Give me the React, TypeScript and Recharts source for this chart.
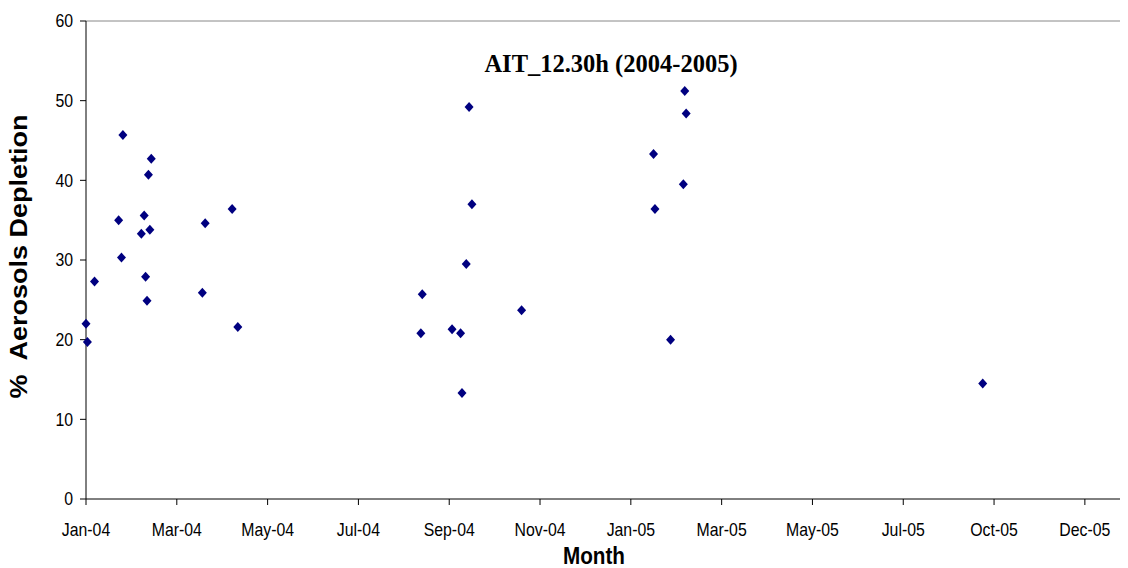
import React from "react";
import { ScatterChart, Scatter, XAxis, YAxis, ReferenceLine } from "recharts";

// Observation dates (AIT, 12:30 h local) and the measured aerosol depletion (%)
const sampleDates = [
  "2004-01-01", "2004-01-02", "2004-01-07", "2004-01-24", "2004-01-26",
  "2004-01-27", "2004-02-09", "2004-02-11", "2004-02-12", "2004-02-13",
  "2004-02-14", "2004-02-15", "2004-02-16", "2004-03-23", "2004-03-25",
  "2004-04-13", "2004-04-17", "2004-08-24", "2004-08-25", "2004-09-15",
  "2004-09-21", "2004-09-22", "2004-09-25", "2004-09-27", "2004-09-29",
  "2004-11-03", "2005-02-04", "2005-02-05", "2005-02-16", "2005-02-25",
  "2005-02-26", "2005-02-27", "2005-09-24",
];
const depletion = [
  22.0, 19.7, 27.3, 35.0, 30.3,
  45.7, 33.3, 35.6, 27.9, 24.9,
  40.7, 33.8, 42.7, 25.9, 34.6,
  36.4, 21.6, 20.8, 25.7, 21.3,
  20.8, 13.3, 29.5, 49.2, 37.0,
  23.7, 43.3, 36.4, 20.0, 39.5,
  51.2, 48.4, 14.5,
];

const tickLabels = [
  "Jan-04", "Mar-04", "May-04", "Jul-04", "Sep-04", "Nov-04",
  "Jan-05", "Mar-05", "May-05", "Jul-05", "Oct-05", "Dec-05",
];
const TICK_STEP_DAYS = 64;
const AXIS_END_DAYS = 734.4;
const yTicks = [0, 10, 20, 30, 40, 50, 60];

const EPOCH = Date.UTC(2004, 0, 1);
const dayOffset = (iso: string) => {
  const [y, m, d] = iso.split("-").map(Number);
  return (Date.UTC(y, m - 1, d) - EPOCH) / 86400000;
};

const points = sampleDates.map((d, i) => ({ day: dayOffset(d), value: depletion[i] }));
const xTicks = tickLabels.map((_, i) => i * TICK_STEP_DAYS);

const SANS = "'Liberation Sans', Arial, sans-serif";
const SERIF = "'Liberation Serif', 'Times New Roman', serif";
const SQUEEZE = 0.88;

const Diamond = (props: any) => {
  const { cx, cy } = props;
  if (cx == null || cy == null) return null;
  return (
    <polygon
      points={`${cx},${cy - 5} ${cx + 4.5},${cy} ${cx},${cy + 5} ${cx - 4.5},${cy}`}
      fill="#000080"
    />
  );
};

const XTick = (props: any) => {
  const { x, y, payload } = props;
  const idx = xTicks.indexOf(payload.value);
  return (
    <text
      transform={`translate(${x},${y + 30.6}) scale(${SQUEEZE},1)`}
      textAnchor="middle"
      fontFamily={SANS}
      fontSize={18}
      fill="#000"
    >
      {idx >= 0 ? tickLabels[idx] : ""}
    </text>
  );
};

const YTick = (props: any) => {
  const { x, y, payload } = props;
  return (
    <text
      transform={`translate(${x},${y + 6.4}) scale(${SQUEEZE},1)`}
      textAnchor="end"
      fontFamily={SANS}
      fontSize={18}
      fill="#000"
    >
      {payload.value}
    </text>
  );
};

export default function App() {
  const W = 1120;
  const H = 560;
  return (
    <div style={{ position: "relative", width: W, height: H }}>
      <ScatterChart width={W} height={H} margin={{ top: 13, right: 0, bottom: 0, left: 0 }}>
        <XAxis
          type="number"
          dataKey="day"
          domain={[0, AXIS_END_DAYS]}
          ticks={xTicks}
          interval={0}
          height={69}
          tickSize={6}
          tickMargin={0}
          axisLine={{ stroke: "#000" }}
          tickLine={{ stroke: "#000" }}
          tick={<XTick />}
        />
        <YAxis
          type="number"
          dataKey="value"
          domain={[0, 60]}
          ticks={yTicks}
          interval={0}
          width={78}
          tickSize={6}
          tickMargin={7}
          axisLine={{ stroke: "#000" }}
          tickLine={{ stroke: "#000" }}
          tick={<YTick />}
        />
        <ReferenceLine y={60} stroke="#888888" />
        <Scatter data={points} shape={<Diamond />} isAnimationActive={false} />
      </ScatterChart>
      <svg
        width={W}
        height={H}
        style={{ position: "absolute", left: 0, top: 0, pointerEvents: "none" }}
      >
        <text
          x={603}
          y={63.7}
          textAnchor="middle"
          fontFamily={SERIF}
          fontWeight="bold"
          fontSize={24.5}
          fill="#000"
        >
          AIT_12.30h (2004-2005)
        </text>
        <text
          transform={`translate(19,248.5) scale(${SQUEEZE},1) rotate(-90)`}
          textAnchor="middle"
          fontFamily={SANS}
          fontWeight="bold"
          fontSize={27}
          fill="#000"
          style={{ whiteSpace: "pre" }}
        >
          {"%  Aerosols Depletion"}
        </text>
        <text
          transform={`translate(586,555.5) scale(${SQUEEZE},1)`}
          textAnchor="middle"
          fontFamily={SANS}
          fontWeight="bold"
          fontSize={23.5}
          fill="#000"
        >
          Month
        </text>
      </svg>
    </div>
  );
}
